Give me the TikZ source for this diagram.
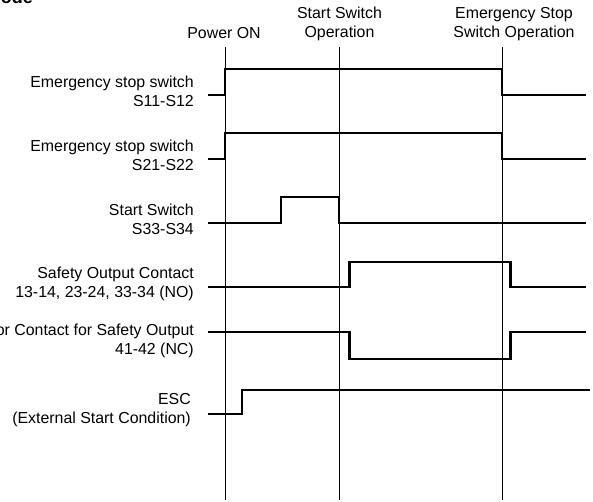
\documentclass[tikz,border=0pt]{standalone}
\usepackage{fontspec}
\setmainfont{Liberation Sans}
\usetikzlibrary{positioning}

\begin{document}
\begin{tikzpicture}[x=1pt, y=-1pt,
  lab/.style={anchor=east, align=right, inner sep=0pt, font=\fontsize{15.9}{19}\selectfont},
  head/.style={align=center, inner sep=0pt, font=\fontsize{15.9}{19}\selectfont},
  sig/.style={line width=2.6pt, line join=miter},
  tline/.style={line width=0.9pt}]
  \useasboundingbox (0,0) rectangle (593,502);

  \node[anchor=base east, inner sep=0pt, font=\fontsize{18}{20}\selectfont\bfseries] (ttl) at (33,4) {Mode};

  \node[head] (h1) at (224,33) {Power ON};
  \node[head] (h2) at (339.5,24) {Start Switch \\ Operation};
  \node[head] (h3) at (514,24) {Emergency Stop \\ Switch Operation};
  \draw[tline] (225,47) -- (225,500); \draw[tline] (339,47) -- (339,500); \draw[tline] (502,47) -- (502,500);

  \node[lab] (l1) at (194,91) {Emergency stop switch \\ S11-S12};
  \node[lab] (l2) at (194,155) {Emergency stop switch \\ S21-S22};
  \node[lab] (l3) at (194,219) {Start Switch \\ S33-S34};
  \node[lab] (l4) at (194,283.7) {Safety Output Contact \\ 13-14, 23-24, 33-34 (NO)};
  \node[lab] (l5) at (194,341) {Monitor Contact for Safety Output \\ 41-42 (NC)};
  \node[lab] (l6) at (191,410) {ESC \\ (External Start Condition)};

  \draw[sig] (208,95) -| (225,69) -| (502,95) -- (586,95);
  \draw[sig] (208,159) -| (225,133) -| (502,159) -- (586,159);
  \draw[sig] (208,223) -| (281,197) -| (339,223) -- (586,223);
  \draw[sig] (208,287) -| (349.5,262) -| (510.5,287) -- (586,287);
  \draw[sig] (208,332) -| (349.5,359) -| (510.5,332) -- (586,332);
  \draw[sig] (208,414) -| (242,390) -- (590,390);
\end{tikzpicture}
\end{document}
